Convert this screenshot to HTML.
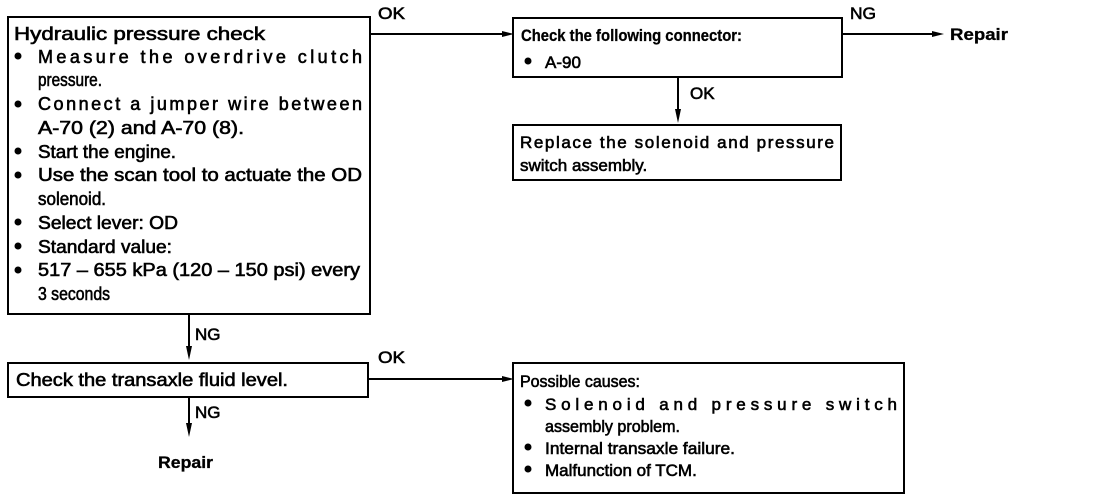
<!DOCTYPE html>
<html><head><meta charset="utf-8"><style>
html,body{margin:0;padding:0;background:#fff;}
svg{display:block}
text{font-family:"Liberation Sans",Arial,sans-serif;font-size:17px;fill:#000;stroke:#000;stroke-width:0.6px}
.L{font-size:18px}
.b{font-weight:bold;stroke-width:0.3px}
</style></head><body>
<svg width="1120" height="502" viewBox="0 0 1120 502" xmlns="http://www.w3.org/2000/svg">
<g fill="none" stroke="#000" stroke-width="2">
<rect x="8" y="17" width="362" height="297"/>
<rect x="8" y="363" width="360" height="34"/>
<rect x="513" y="18" width="329" height="59"/>
<rect x="513" y="125" width="328" height="55"/>
<rect x="513" y="363" width="391" height="130"/>
<line x1="370" y1="34" x2="505" y2="34"/>
<line x1="842" y1="34" x2="935" y2="34"/>
<line x1="368" y1="379" x2="505" y2="379"/>
<line x1="189" y1="314" x2="189" y2="350"/>
<line x1="189" y1="397" x2="189" y2="425"/>
<line x1="678" y1="77" x2="678" y2="113"/>
</g>
<g fill="#000">
<polygon points="514,34 502,31 502,37"/>
<polygon points="944,34 932,31 932,37"/>
<polygon points="514,379 502,376 502,382"/>
<polygon points="189,360 186,346 192,346"/>
<polygon points="189,437 186,423 192,423"/>
<polygon points="678,123 675,109 681,109"/>
</g>
<g>
<circle cx="18" cy="56" r="3.5"/><circle cx="18" cy="104" r="3.5"/><circle cx="18" cy="151" r="3.5"/>
<circle cx="18" cy="175" r="3.5"/><circle cx="18" cy="222" r="3.5"/><circle cx="18" cy="246" r="3.5"/>
<circle cx="18" cy="270" r="3.5"/>
<circle cx="528" cy="61" r="3.5"/>
<circle cx="528" cy="403" r="3.5"/><circle cx="528" cy="447" r="3.5"/><circle cx="528" cy="469" r="3.5"/>
</g>
<text x="378" y="19" textLength="27" lengthAdjust="spacingAndGlyphs">OK</text>
<text x="850" y="19" textLength="26" lengthAdjust="spacingAndGlyphs">NG</text>
<text x="378" y="363" textLength="27" lengthAdjust="spacingAndGlyphs">OK</text>
<text x="195" y="340">NG</text>
<text x="195" y="418">NG</text>
<text x="690" y="99">OK</text>
<text class="b" x="950" y="40" textLength="58" lengthAdjust="spacingAndGlyphs">Repair</text>
<text class="b" x="158" y="468" textLength="55" lengthAdjust="spacingAndGlyphs">Repair</text>

<text class="L" x="14" y="40" textLength="251" lengthAdjust="spacingAndGlyphs">Hydraulic pressure check</text>
<text class="L" x="38" y="63" textLength="324" lengthAdjust="spacing">Measure the overdrive clutch</text>
<text class="L" x="38" y="86" textLength="64" lengthAdjust="spacingAndGlyphs">pressure.</text>
<text class="L" x="38" y="110" textLength="324" lengthAdjust="spacing">Connect a jumper wire between</text>
<text class="L" x="38" y="134" textLength="206" lengthAdjust="spacingAndGlyphs">A-70 (2) and A-70 (8).</text>
<text class="L" x="38" y="158" textLength="138" lengthAdjust="spacingAndGlyphs">Start the engine.</text>
<text class="L" x="38" y="181" textLength="324" lengthAdjust="spacingAndGlyphs">Use the scan tool to actuate the OD</text>
<text class="L" x="38" y="205" textLength="68" lengthAdjust="spacingAndGlyphs">solenoid.</text>
<text class="L" x="38" y="229" textLength="140" lengthAdjust="spacingAndGlyphs">Select lever: OD</text>
<text class="L" x="38" y="253" textLength="134" lengthAdjust="spacingAndGlyphs">Standard value:</text>
<text class="L" x="38" y="276" textLength="322" lengthAdjust="spacingAndGlyphs">517 – 655 kPa (120 – 150 psi) every</text>
<text class="L" x="38" y="300" textLength="72" lengthAdjust="spacingAndGlyphs">3 seconds</text>

<text class="L" x="16" y="386" textLength="272" lengthAdjust="spacingAndGlyphs">Check the transaxle fluid level.</text>

<text class="b" x="521" y="41" textLength="221" lengthAdjust="spacingAndGlyphs">Check the following connector:</text>
<text x="545" y="68">A-90</text>

<text x="520" y="148" textLength="314" lengthAdjust="spacing">Replace the solenoid and pressure</text>
<text x="520" y="171">switch assembly.</text>

<text x="520" y="387" textLength="120" lengthAdjust="spacingAndGlyphs">Possible causes:</text>
<text x="545" y="410" textLength="352" lengthAdjust="spacing">Solenoid and pressure switch</text>
<text x="545" y="432" textLength="135" lengthAdjust="spacingAndGlyphs">assembly problem.</text>
<text x="545" y="454" textLength="190" lengthAdjust="spacingAndGlyphs">Internal transaxle failure.</text>
<text x="545" y="476">Malfunction of TCM.</text>
</svg>
</body></html>
